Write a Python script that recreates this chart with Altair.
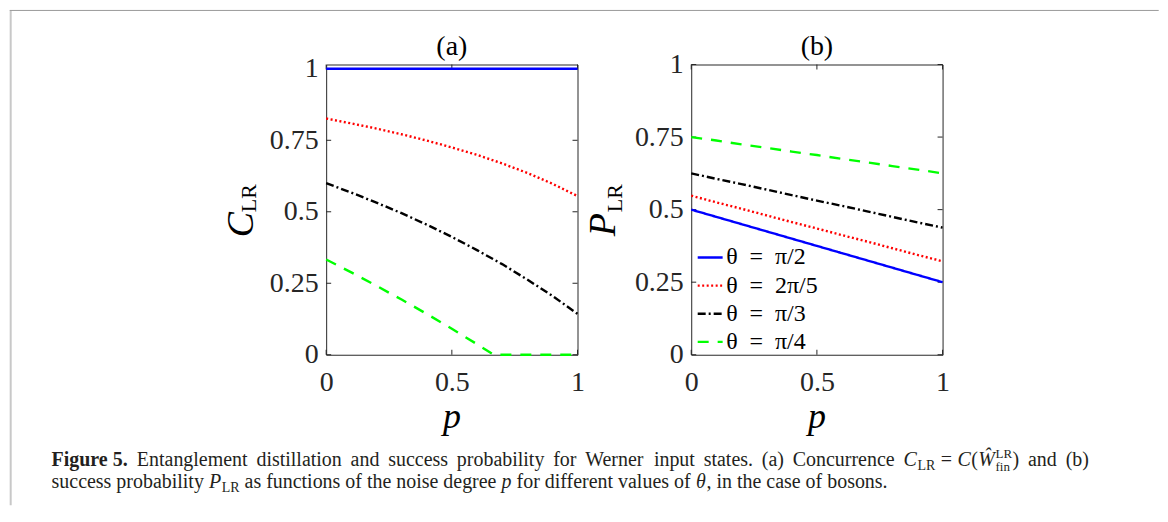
import altair as alt
import pandas as pd

# ---------------- data ----------------
series = ["θ = π/2", "θ = 2π/5", "θ = π/3", "θ = π/4"]
colors = ["#0000ff", "#ff0000", "#000000", "#00ff00"]
dashes = [[1, 0], [2, 2.5], [8, 3, 2, 3], [11, 9]]

# panel (a): concurrence C_LR vs p
p_a = [0.0, 0.1, 0.2, 0.3, 0.4, 0.5, 0.6, 0.667, 0.7, 0.8, 0.9, 1.0]
c_pi2 = [1.0, 1.0, 1.0, 1.0, 1.0, 1.0, 1.0, 1.0, 1.0, 1.0, 1.0, 1.0]
c_2pi5 = [0.826, 0.809, 0.791, 0.771, 0.749, 0.725, 0.699, 0.679, 0.669, 0.636, 0.598, 0.555]
c_pi3 = [0.600, 0.567, 0.532, 0.495, 0.455, 0.412, 0.366, 0.333, 0.317, 0.263, 0.206, 0.143]
c_pi4 = [0.333, 0.288, 0.241, 0.193, 0.143, 0.091, 0.037, 0.0, 0.0, 0.0, 0.0, 0.0]

# panel (b): success probability P_LR vs p
p_b = [0.0, 0.1, 0.2, 0.3, 0.4, 0.5, 0.6, 0.7, 0.8, 0.9, 1.0]
P_pi2 = [0.500, 0.475, 0.450, 0.425, 0.400, 0.375, 0.350, 0.325, 0.300, 0.275, 0.250]
P_2pi5 = [0.548, 0.525, 0.503, 0.480, 0.457, 0.435, 0.412, 0.390, 0.367, 0.344, 0.322]
P_pi3 = [0.625, 0.606, 0.588, 0.569, 0.550, 0.531, 0.513, 0.494, 0.475, 0.456, 0.438]
P_pi4 = [0.750, 0.738, 0.725, 0.713, 0.700, 0.688, 0.675, 0.663, 0.650, 0.638, 0.625]

x_ticks = [0, 0.5, 1]
y_ticks = [0, 0.25, 0.5, 0.75, 1]

# caption text
cap1_bold = ["Figure 5."]
cap1_words = ["Entanglement", "distillation", "and", "success", "probability",
              "for", "Werner", "input", "states.", "(a)", "Concurrence"]
cap1_tail = ["and", "(b)"]
cap2_a = "success probability"
cap2_b = "as functions of the noise degree"
cap2_c = "for different values of"
cap2_d = ", in the case of bosons."


def long_df(p, cols):
    rows = []
    for name, vals in zip(series, cols):
        for pv, v in zip(p, vals):
            rows.append({"p": pv, "v": v, "series": name})
    return pd.DataFrame(rows)


df_a = long_df(p_a, [c_pi2, c_2pi5, c_pi3, c_pi4])
df_b = long_df(p_b, [P_pi2, P_2pi5, P_pi3, P_pi4])

# ---------------- styling ----------------
W, H = 252, 291
SERIF = "Liberation Serif"
AX = "#262626"
OX, OY = 325.3, 62.7  # absolute position of panel (a) plot origin

# Times / Liberation Serif advance widths (1/1000 em) for caption layout
REG = dict(zip("abcdefghijklmnopqrstuvwxyz",
               [444, 500, 444, 500, 444, 333, 500, 500, 278, 278, 500, 278, 778,
                500, 500, 500, 500, 333, 389, 278, 500, 500, 722, 500, 500, 444]))
REG.update(dict(zip("ABCDEFGHIJKLMNOPQRSTUVWXYZ",
                    [722, 667, 667, 722, 611, 556, 722, 722, 333, 389, 722, 611, 889,
                     722, 722, 556, 722, 667, 556, 611, 722, 722, 944, 722, 722, 611])))
REG.update({" ": 250, ".": 250, ",": 250, "(": 333, ")": 333, "=": 564, "/": 278})
for d in "0123456789":
    REG[d] = 500
BOLD = dict(REG)
BOLD.update({"F": 611, "u": 556, "r": 444, "i": 278, "g": 500, "e": 444})
ITAL = dict(REG)
ITAL.update({"C": 667, "P": 611, "W": 833, "Ŵ": 833, "p": 500, "θ": 500})


def tw(s, size, table=REG):
    return sum(table.get(ch, 500) for ch in s) * size / 1000.0


def txt(text, x, y, size, style="normal", weight="normal", angle=0,
        align="left", color="#231f20"):
    return alt.Chart(pd.DataFrame({"t": [text]})).mark_text(
        font=SERIF, fontSize=size, fontStyle=style, fontWeight=weight,
        angle=angle, align=align, baseline="alphabetic", color=color
    ).encode(text="t:N", x=alt.value(x), y=alt.value(y))


def panel(df, ydom, letter, sym, sym_x, sub_x, legend):
    leg = None
    if legend:
        leg = alt.Legend(
            orient="none", legendX=5, legendY=179.5, title=None,
            direction="vertical", symbolType="stroke", symbolSize=625,
            symbolStrokeWidth=2.4, labelFont=SERIF, labelFontSize=24,
            labelColor="black", labelOffset=2, rowPadding=2.2, padding=0,
            labelExpr="replace(replace(datum.label, ' ', '\u2002'), ' ', '\u2002')",
        )
    lab = "format(datum.value, '.2~f')"
    lines = alt.Chart(df).mark_line(strokeWidth=2.4).encode(
        x=alt.X("p:Q", scale=alt.Scale(domain=[0, 1], nice=False, zero=False),
                axis=alt.Axis(values=x_ticks, labelExpr=lab, title=None,
                              ticks=False, domain=False, grid=False,
                              labelFlush=False, labelOverlap=False,
                              labelPadding=14, labelFont=SERIF,
                              labelFontSize=28, labelColor=AX)),
        y=alt.Y("v:Q", scale=alt.Scale(domain=ydom, nice=False, zero=False),
                axis=alt.Axis(values=y_ticks, labelExpr=lab, title=None,
                              ticks=False, domain=False, grid=False,
                              labelFlush=False, labelOverlap=False,
                              labelPadding=8, labelFont=SERIF,
                              labelFontSize=28, labelColor=AX)),
        color=alt.Color("series:N", scale=alt.Scale(domain=series, range=colors),
                        legend=leg),
        strokeDash=alt.StrokeDash("series:N",
                                  scale=alt.Scale(domain=series, range=dashes),
                                  legend=leg),
    )
    ty = pd.DataFrame({"v": y_ticks})
    tx = pd.DataFrame({"p": x_ticks})
    tl = alt.Chart(ty).mark_rule(color=AX, strokeWidth=1).encode(
        y="v:Q", x=alt.value(0), x2=alt.value(5))
    tr = alt.Chart(ty).mark_rule(color=AX, strokeWidth=1).encode(
        y="v:Q", x=alt.value(W - 5), x2=alt.value(W))
    tb = alt.Chart(tx).mark_rule(color=AX, strokeWidth=1).encode(
        x="p:Q", y=alt.value(H - 5), y2=alt.value(H))
    tt = alt.Chart(tx).mark_rule(color=AX, strokeWidth=1).encode(
        x="p:Q", y=alt.value(0), y2=alt.value(5))
    layers = [tl, tr, tb, tt, lines,
              txt(letter, W / 2, -10, 28, align="center", color="black"),
              txt("p", W / 2, 364, 36, style="italic", align="center", color="black"),
              txt(sym, sym_x, 160.5, 38, style="italic", angle=270,
                  align="center", color="black"),
              txt("LR", sub_x, 134, 22, angle=270, align="center", color="black")]
    return layers


layers_a = panel(df_a, [0, 1.015], "(a)", "C", -73.3, -70.3, False)
layers_b = panel(df_b, [0, 1.0], "(b)", "P", -76.3, -69.3, True)

# page frame (left and top grey borders)
frame_l = alt.Chart(pd.DataFrame({"k": [0]})).mark_rule(
    color="#c8c8c8", strokeWidth=2).encode(
    x=alt.value(-316.3), y=alt.value(-54.2), y2=alt.value(442))
frame_t = alt.Chart(pd.DataFrame({"k": [0]})).mark_rule(
    color="#9b9b9b", strokeWidth=1).encode(
    x=alt.value(-317.3), x2=alt.value(834.7), y=alt.value(-54.2))

# ---------------- caption layout ----------------
FS, SS, SC = 20, 14, 13
B1, B2 = 465, 487          # absolute baselines of the two caption lines
X0, X1 = 50, 1090          # justified first line spans X0..X1
segs = []                  # (abs x, abs baseline, text, size, style, weight)

# math unit "C_LR = C(W^LR_fin)"
math = []
mx = 0.0
math.append((mx, 0, "C", FS, "italic")); mx += tw("C", FS, ITAL) + 0.6
math.append((mx, 4, "LR", SS, "normal")); mx += tw("LR", SS) + 5.5
math.append((mx, 0, "=", FS, "normal")); mx += tw("=", FS) + 5.5
math.append((mx, 0, "C", FS, "italic")); mx += tw("C", FS, ITAL) + 0.6
math.append((mx, 0, "(", FS, "normal")); mx += tw("(", FS) + 0.3
math.append((mx, 0, "Ŵ", FS, "italic")); mx += tw("Ŵ", FS, ITAL) + 0.6
math.append((mx, -8, "LR", SC, "normal"))
math.append((mx, 5, "fin", SC, "normal")); mx += max(tw("LR", SC), tw("fin", SC)) + 0.5
math.append((mx, 0, ")", FS, "normal")); mx += tw(")", FS)
math_w = mx

units = [("b", w) for w in cap1_bold] + [("r", w) for w in cap1_words] + \
        [("m", None)] + [("r", w) for w in cap1_tail]
widths = []
for kind, w in units:
    if kind == "b":
        widths.append(tw(w, FS, BOLD))
    elif kind == "r":
        widths.append(tw(w, FS))
    else:
        widths.append(math_w)
gap = (X1 - X0 - sum(widths)) / (len(units) - 1)
x = X0
for (kind, w), wd in zip(units, widths):
    if kind == "b":
        segs.append((x, B1, w, FS, "normal", "bold"))
    elif kind == "r":
        segs.append((x, B1, w, FS, "normal", "normal"))
    else:
        for dx, dy, t, s, st in math:
            segs.append((x + dx, B1 + dy, t, s, st, "normal"))
    x += wd + gap

# second line, natural spacing
sp = tw(" ", FS)
x = X0
segs.append((x, B2, cap2_a, FS, "normal", "normal")); x += tw(cap2_a, FS) + sp
segs.append((x, B2, "P", FS, "italic", "normal")); x += tw("P", FS, ITAL) + 0.6
segs.append((x, B2 + 4, "LR", SS, "normal", "normal")); x += tw("LR", SS) + sp
segs.append((x, B2, cap2_b, FS, "normal", "normal")); x += tw(cap2_b, FS) + sp
segs.append((x, B2, "p", FS, "italic", "normal")); x += tw("p", FS, ITAL) + sp
segs.append((x, B2, cap2_c, FS, "normal", "normal")); x += tw(cap2_c, FS) + sp
segs.append((x, B2, "θ", FS, "italic", "normal")); x += tw("θ", FS, ITAL) + 0.5
segs.append((x, B2, cap2_d, FS, "normal", "normal"))

cap_layers = [txt(t, sx - OX, sy - OY, s, style=st, weight=wt)
              for (sx, sy, t, s, st, wt) in segs]

chart_a = alt.layer(frame_l, frame_t, *layers_a, *cap_layers).properties(
    width=W, height=H)
chart_b = alt.layer(*layers_b).properties(width=W, height=H)

chart = alt.hconcat(chart_a, chart_b, spacing=114, bounds="flush").resolve_scale(
    x="independent", y="independent", color="independent",
    strokeDash="independent").resolve_legend(
    color="independent", strokeDash="independent").properties(
    padding={"left": 0, "top": 0, "right": 0, "bottom": 0},
    background="white").configure_view(stroke=AX, strokeWidth=1)

chart.save("out.html", embed_options={"renderer": "svg", "actions": False})
